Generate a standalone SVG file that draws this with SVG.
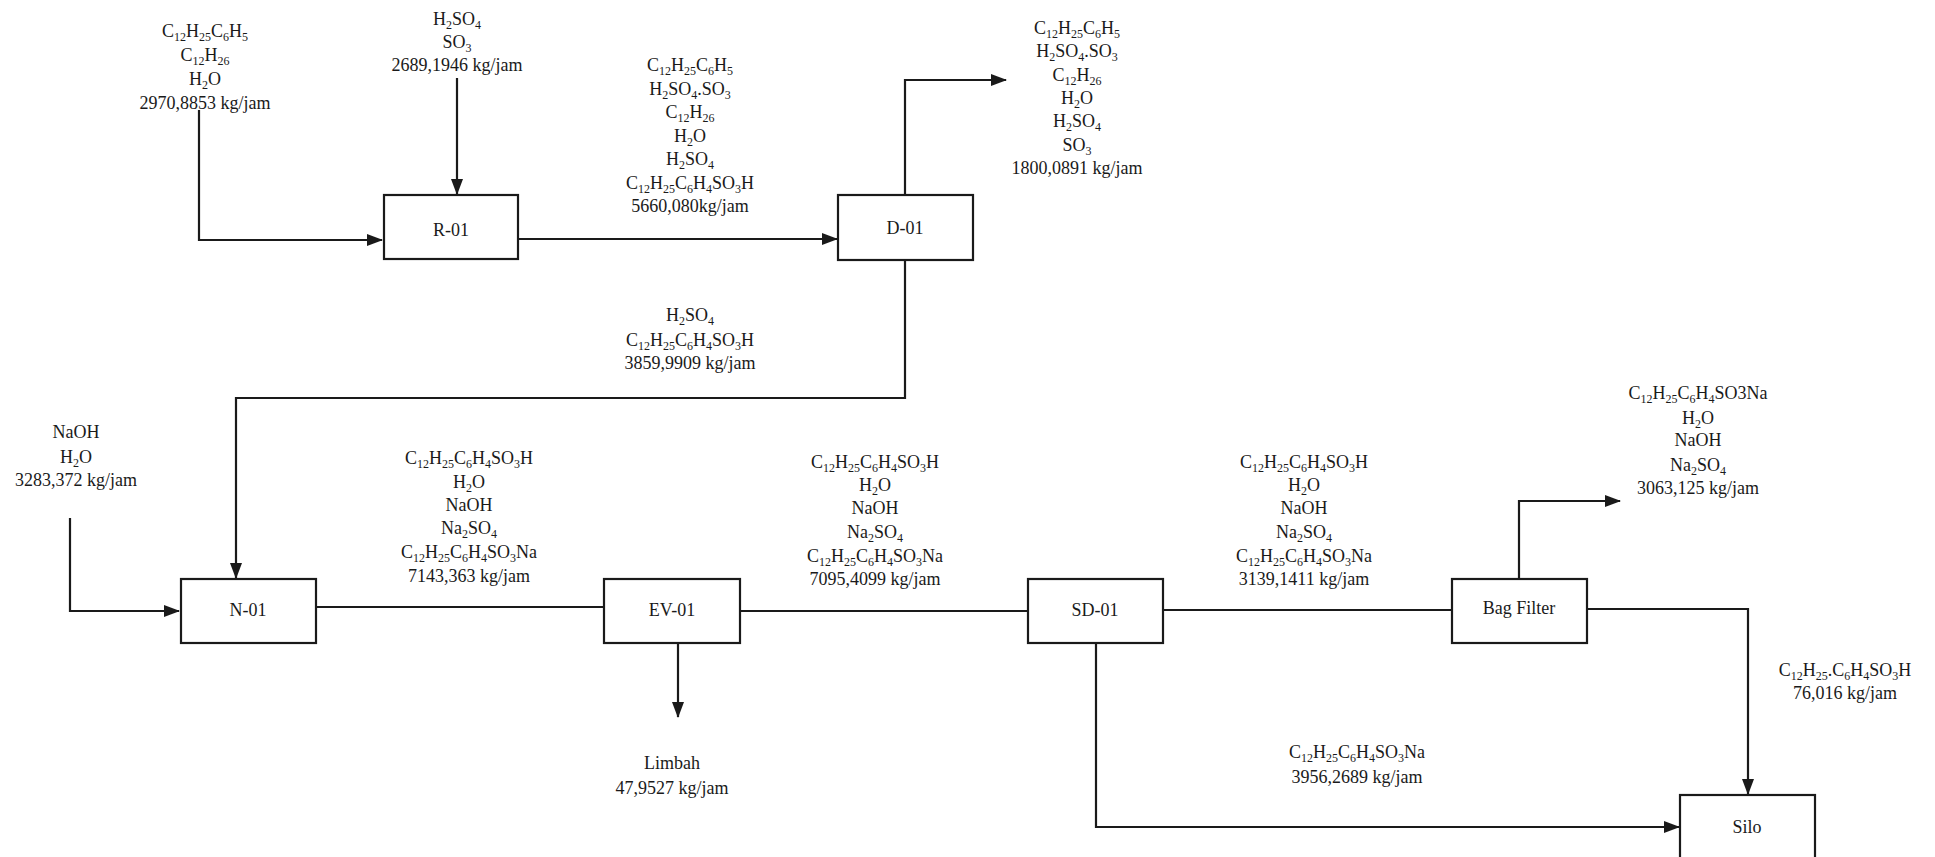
<svg xmlns="http://www.w3.org/2000/svg" width="1935" height="857" viewBox="0 0 1935 857">
<style>
text{font-family:"Liberation Serif","Times New Roman",serif;font-size:18px;fill:#1a1a1a;text-anchor:middle}
.s{font-size:12px;baseline-shift:-4px}
.box{fill:#fff;stroke:#1a1a1a;stroke-width:2.2}
.c{fill:none;stroke:#1a1a1a;stroke-width:2.2}
</style>
<defs>
<marker id="ah" markerUnits="userSpaceOnUse" markerWidth="16" markerHeight="12" refX="15" refY="6" orient="auto">
<path d="M0,0 L16,6 L0,12 Z" fill="#1a1a1a"/>
</marker>
</defs>
<rect width="1935" height="857" fill="#fff"/>
<g id="connectors">
<path class="c" d="M199,110 V240 H382" marker-end="url(#ah)"/>
<path class="c" d="M457,78 V194" marker-end="url(#ah)"/>
<path class="c" d="M518,239 H837" marker-end="url(#ah)"/>
<path class="c" d="M905,195 V80 H1006" marker-end="url(#ah)"/>
<path class="c" d="M905,260 V398 H236 V578" marker-end="url(#ah)"/>
<path class="c" d="M70,518 V611 H179" marker-end="url(#ah)"/>
<path class="c" d="M316,607 H604"/>
<path class="c" d="M678,643 V717" marker-end="url(#ah)"/>
<path class="c" d="M740,611 H1028"/>
<path class="c" d="M1163,610 H1452"/>
<path class="c" d="M1096,643 V827 H1679" marker-end="url(#ah)"/>
<path class="c" d="M1519,579 V501 H1620" marker-end="url(#ah)"/>
<path class="c" d="M1587,609 H1748 V794" marker-end="url(#ah)"/>
</g>
<g id="R-01"><rect class="box" x="384" y="195" width="134" height="64"/><text x="451" y="236">R-01</text></g>
<g id="D-01"><rect class="box" x="838" y="195" width="135" height="65"/><text x="905" y="234">D-01</text></g>
<g id="N-01"><rect class="box" x="181" y="579" width="135" height="64"/><text x="248" y="616">N-01</text></g>
<g id="EV-01"><rect class="box" x="604" y="579" width="136" height="64"/><text x="672" y="616">EV-01</text></g>
<g id="SD-01"><rect class="box" x="1028" y="579" width="135" height="64"/><text x="1095" y="616">SD-01</text></g>
<g id="BagFilter"><rect class="box" x="1452" y="579" width="135" height="64"/><text x="1519" y="614">Bag Filter</text></g>
<g id="Silo"><rect class="box" x="1680" y="795" width="135" height="70"/><text x="1747" y="833">Silo</text></g>
<g id="labels">
<text x="205" y="37">C<tspan class="s">12</tspan>H<tspan class="s">25</tspan>C<tspan class="s">6</tspan>H<tspan class="s">5</tspan></text>
<text x="205" y="61">C<tspan class="s">12</tspan>H<tspan class="s">26</tspan></text>
<text x="205" y="85">H<tspan class="s">2</tspan>O</text>
<text x="205" y="109">2970,8853 kg/jam</text>

<text x="457" y="25">H<tspan class="s">2</tspan>SO<tspan class="s">4</tspan></text>
<text x="457" y="48">SO<tspan class="s">3</tspan></text>
<text x="457" y="71">2689,1946 kg/jam</text>

<text x="690" y="71">C<tspan class="s">12</tspan>H<tspan class="s">25</tspan>C<tspan class="s">6</tspan>H<tspan class="s">5</tspan></text>
<text x="690" y="95">H<tspan class="s">2</tspan>SO<tspan class="s">4</tspan>.SO<tspan class="s">3</tspan></text>
<text x="690" y="118">C<tspan class="s">12</tspan>H<tspan class="s">26</tspan></text>
<text x="690" y="142">H<tspan class="s">2</tspan>O</text>
<text x="690" y="165">H<tspan class="s">2</tspan>SO<tspan class="s">4</tspan></text>
<text x="690" y="189">C<tspan class="s">12</tspan>H<tspan class="s">25</tspan>C<tspan class="s">6</tspan>H<tspan class="s">4</tspan>SO<tspan class="s">3</tspan>H</text>
<text x="690" y="212">5660,080kg/jam</text>

<text x="1077" y="34">C<tspan class="s">12</tspan>H<tspan class="s">25</tspan>C<tspan class="s">6</tspan>H<tspan class="s">5</tspan></text>
<text x="1077" y="57">H<tspan class="s">2</tspan>SO<tspan class="s">4</tspan>.SO<tspan class="s">3</tspan></text>
<text x="1077" y="81">C<tspan class="s">12</tspan>H<tspan class="s">26</tspan></text>
<text x="1077" y="104">H<tspan class="s">2</tspan>O</text>
<text x="1077" y="127">H<tspan class="s">2</tspan>SO<tspan class="s">4</tspan></text>
<text x="1077" y="151">SO<tspan class="s">3</tspan></text>
<text x="1077" y="174">1800,0891 kg/jam</text>

<text x="690" y="321">H<tspan class="s">2</tspan>SO<tspan class="s">4</tspan></text>
<text x="690" y="346">C<tspan class="s">12</tspan>H<tspan class="s">25</tspan>C<tspan class="s">6</tspan>H<tspan class="s">4</tspan>SO<tspan class="s">3</tspan>H</text>
<text x="690" y="369">3859,9909 kg/jam</text>

<text x="76" y="438">NaOH</text>
<text x="76" y="463">H<tspan class="s">2</tspan>O</text>
<text x="76" y="486">3283,372 kg/jam</text>

<text x="469" y="464">C<tspan class="s">12</tspan>H<tspan class="s">25</tspan>C<tspan class="s">6</tspan>H<tspan class="s">4</tspan>SO<tspan class="s">3</tspan>H</text>
<text x="469" y="488">H<tspan class="s">2</tspan>O</text>
<text x="469" y="511">NaOH</text>
<text x="469" y="534">Na<tspan class="s">2</tspan>SO<tspan class="s">4</tspan></text>
<text x="469" y="558">C<tspan class="s">12</tspan>H<tspan class="s">25</tspan>C<tspan class="s">6</tspan>H<tspan class="s">4</tspan>SO<tspan class="s">3</tspan>Na</text>
<text x="469" y="582">7143,363 kg/jam</text>

<text x="672" y="769">Limbah</text>
<text x="672" y="794">47,9527 kg/jam</text>

<text x="875" y="468">C<tspan class="s">12</tspan>H<tspan class="s">25</tspan>C<tspan class="s">6</tspan>H<tspan class="s">4</tspan>SO<tspan class="s">3</tspan>H</text>
<text x="875" y="491">H<tspan class="s">2</tspan>O</text>
<text x="875" y="514">NaOH</text>
<text x="875" y="538">Na<tspan class="s">2</tspan>SO<tspan class="s">4</tspan></text>
<text x="875" y="562">C<tspan class="s">12</tspan>H<tspan class="s">25</tspan>C<tspan class="s">6</tspan>H<tspan class="s">4</tspan>SO<tspan class="s">3</tspan>Na</text>
<text x="875" y="585">7095,4099 kg/jam</text>

<text x="1304" y="468">C<tspan class="s">12</tspan>H<tspan class="s">25</tspan>C<tspan class="s">6</tspan>H<tspan class="s">4</tspan>SO<tspan class="s">3</tspan>H</text>
<text x="1304" y="491">H<tspan class="s">2</tspan>O</text>
<text x="1304" y="514">NaOH</text>
<text x="1304" y="538">Na<tspan class="s">2</tspan>SO<tspan class="s">4</tspan></text>
<text x="1304" y="562">C<tspan class="s">12</tspan>H<tspan class="s">25</tspan>C<tspan class="s">6</tspan>H<tspan class="s">4</tspan>SO<tspan class="s">3</tspan>Na</text>
<text x="1304" y="585">3139,1411 kg/jam</text>

<text x="1698" y="399">C<tspan class="s">12</tspan>H<tspan class="s">25</tspan>C<tspan class="s">6</tspan>H<tspan class="s">4</tspan>SO3Na</text>
<text x="1698" y="424">H<tspan class="s">2</tspan>O</text>
<text x="1698" y="446">NaOH</text>
<text x="1698" y="471">Na<tspan class="s">2</tspan>SO<tspan class="s">4</tspan></text>
<text x="1698" y="494">3063,125 kg/jam</text>

<text x="1845" y="676">C<tspan class="s">12</tspan>H<tspan class="s">25</tspan>.C<tspan class="s">6</tspan>H<tspan class="s">4</tspan>SO<tspan class="s">3</tspan>H</text>
<text x="1845" y="699">76,016 kg/jam</text>

<text x="1357" y="758">C<tspan class="s">12</tspan>H<tspan class="s">25</tspan>C<tspan class="s">6</tspan>H<tspan class="s">4</tspan>SO<tspan class="s">3</tspan>Na</text>
<text x="1357" y="783">3956,2689 kg/jam</text>
</g>
</svg>
